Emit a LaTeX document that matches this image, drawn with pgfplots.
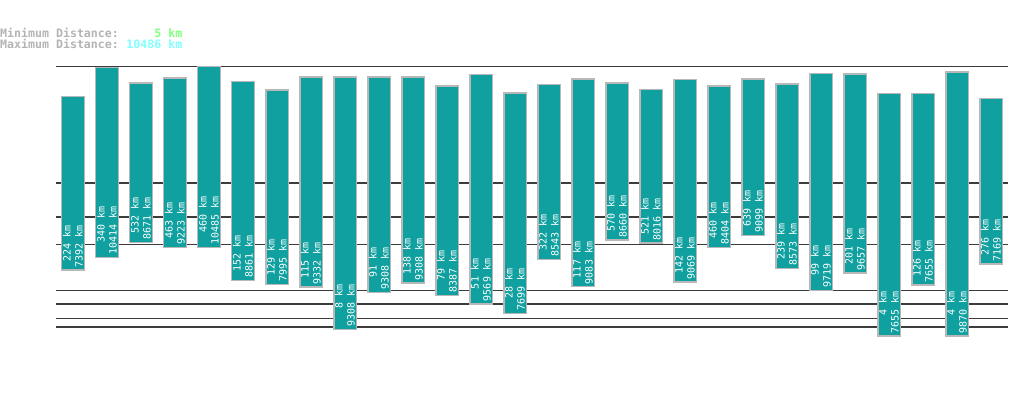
\documentclass[border=0pt]{standalone}
\usepackage{pgfplots}
\pgfplotsset{compat=1.18}
\usepackage{pgfplotstable}
\usepackage{fontspec}
\newfontfamily\monofont{DejaVu Sans Mono}
\definecolor{barc}{HTML}{11A0A0}
\definecolor{bordc}{HTML}{B8B8B8}
\definecolor{gridc}{HTML}{3C3C3C}
\definecolor{headc}{HTML}{B4B4B4}
\definecolor{minc}{HTML}{80FF80}
\definecolor{maxc}{HTML}{80FFFF}

\pgfplotstableread{
i mn mx
0 224 7392
1 340 10414
2 532 8671
3 463 9223
4 460 10485
5 152 8861
6 129 7995
7 115 9332
8 8 9308
9 91 9308
10 138 9308
11 79 8387
12 51 9569
13 28 7699
14 322 8543
15 117 9083
16 570 8660
17 521 8016
18 142 9069
19 460 8404
20 639 9099
21 239 8573
22 99 9719
23 201 9657
24 4 7655
25 126 7655
26 4 9870
27 276 7169
}\bars

\begin{document}
\begin{tikzpicture}[x=1bp,y=1bp]
\path[use as bounding box, fill=white] (0,0) rectangle (1019,402);
\node[anchor=base west, inner sep=0, text=headc, font=\monofont\bfseries\fontsize{11.6bp}{12bp}\selectfont] at (0,365) {Minimum Distance:};
\node[anchor=base west, inner sep=0, text=headc, font=\monofont\bfseries\fontsize{11.6bp}{12bp}\selectfont] at (0,354) {Maximum Distance:};
\node[anchor=base east, inner sep=0, text=minc, font=\monofont\bfseries\fontsize{11.6bp}{12bp}\selectfont] at (182.5,365) {5 km};
\node[anchor=base east, inner sep=0, text=maxc, font=\monofont\bfseries\fontsize{11.6bp}{12bp}\selectfont] at (182.5,354) {10486 km};
\begin{axis}[
  at={(56bp,56.59bp)}, anchor=south west,
  scale only axis, width=952bp, height=278.76bp,
  xmin=-0.5, xmax=27.5,
  ymin=1, ymax=10486,
  y coord trafo/.code={\pgfmathparse{exp(0.3*ln(#1))}},
  y coord inv trafo/.code={\pgfmathparse{exp(ln(#1)/0.3)}},
  ytick={10,20,50,100,500,1000,2000,10486},
  xtick=\empty, yticklabels={},
  ymajorgrids, grid style={line width=1.3bp, color=gridc},
  axis line style={draw=none}, major tick length=0pt,
  clip=false,
]
\pgfplotsinvokeforeach{0,...,27}{
  \pgfplotstablegetelem{#1}{mn}\of\bars \let\mn\pgfplotsretval
  \pgfplotstablegetelem{#1}{mx}\of\bars \let\mx\pgfplotsretval
  \pgfmathsetmacro\xl{#1-0.331}
  \pgfmathsetmacro\xr{#1+0.331}
  \edef\tmp{\noexpand\addplot[fill=barc, draw=bordc, line width=1.5bp] coordinates {(\xl,\mn) (\xr,\mn) (\xr,\mx) (\xl,\mx)} --cycle;}
  \tmp
}
\addplot[draw=none, mark=none,
  point meta=explicit symbolic,
  visualization depends on={\thisrow{mx}\as\mxv},
  nodes near coords={\pgfplotspointmeta\ km\\\pgfmathprintnumber[fixed,precision=0,1000 sep={},assume math mode=true]{\mxv}\ km},
  every node near coord/.append style={rotate=90, anchor=west, align=right, text=white, inner sep=2.5bp,
    font=\monofont\fontsize{10bp}{12bp}\selectfont}]
  table[x=i, y=mn, meta=mn]{\bars};
\end{axis}
\end{tikzpicture}
\end{document}
